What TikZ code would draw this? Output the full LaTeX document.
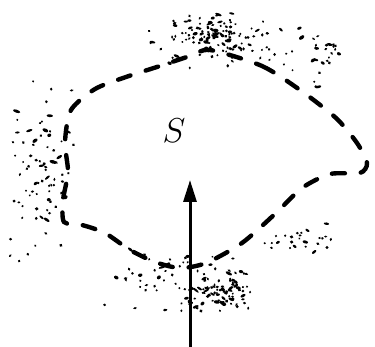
\documentclass[tikz,border=0pt]{standalone}
\usetikzlibrary{arrows.meta}
\newcommand\stip[5]{%
  \foreach \k in {1,...,#1}{%
    \pgfmathsetmacro\px{#2+#4*(rnd+rnd-1)}%
    \pgfmathsetmacro\py{#3+#5*(rnd+rnd-1)}%
    \pgfmathsetmacro\pw{0.5+1.4*rnd*rnd}%
    \pgfmathsetmacro\ph{0.5+0.4*rnd}%
    \pgfmathsetmacro\pr{90*rnd-45}%
    \fill[stipple,rotate around={\pr:(\px,\py)}] (\px,\py) ellipse[x radius=\pw pt, y radius=\ph pt];
  }}
\begin{document}
\begin{tikzpicture}[x=0.5pt,y=-0.5pt,
  boundary/.style={line width=2.2pt, line cap=round, dash pattern=on 6.5pt off 8pt},
  arrowline/.style={line width=1.5pt, -{Triangle[length=11pt,width=6.5pt]}},
  stipple/.style={fill=black},
  label/.style={font=\fontsize{16}{19}\selectfont, inner sep=0pt}]
\useasboundingbox (0,0) rectangle (375,347);
\pgfmathsetseed{11}
% stippled texture
\stip{60}{215}{33}{42}{20}
\stip{80}{225}{42}{85}{32}
\stip{25}{318}{60}{25}{30}
\stip{80}{40}{165}{35}{100}
\stip{60}{222}{290}{40}{25}
\stip{75}{185}{282}{85}{40}
\stip{25}{300}{240}{40}{22}
% boundary
\draw[boundary] plot[smooth cycle, tension=0.45] coordinates {
  (210,50) (262,66) (300,90) (336,118) (357,143) (367,163) (360,173)
  (330,174) (302,188) (276,213) (242,243) (206,263) (180,268) (155,262)
  (130,250) (105,233) (82,225) (64,222) (63,200) (68,172) (65,142)
  (71,110) (95,89) (126,77) (160,66) (190,56)};
\node[label] (S) at (174,131) {$S$};
\coordinate (tail) at (190,347);
\coordinate (head) at (190,180);
\draw[arrowline] (tail) -- (head);
\end{tikzpicture}
\end{document}
